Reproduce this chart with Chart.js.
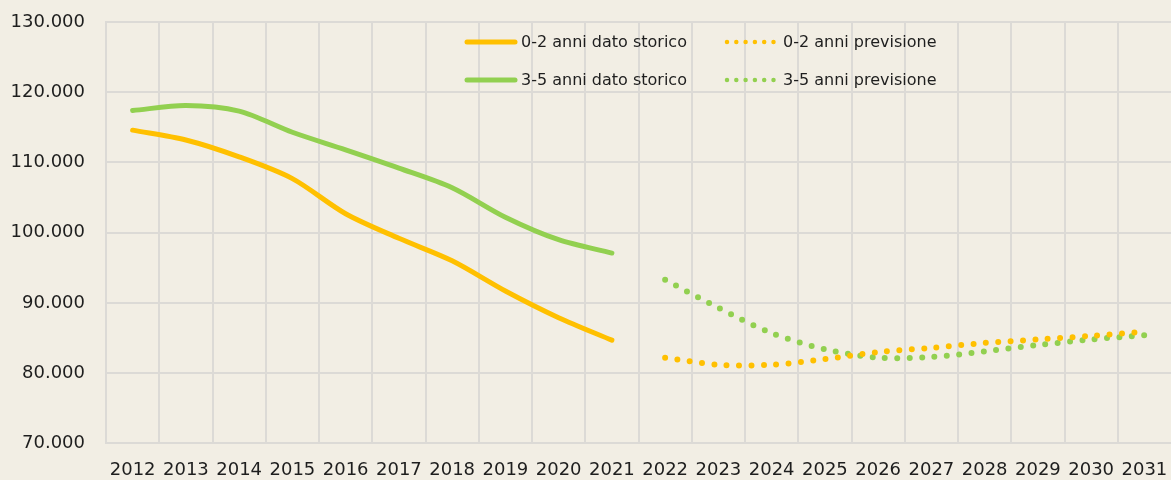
<!DOCTYPE html>
<html lang="it">
<head>
<meta charset="utf-8">
<title>Bambini 0-2 e 3-5 anni</title>
<script src="https://cdn.jsdelivr.net/npm/chart.js@4.4.1/dist/chart.umd.min.js"></script>
<style>
  html, body { margin: 0; padding: 0; background: #f2eee4; }
  #wrap { width: 1171px; height: 480px; position: relative; }
</style>
</head>
<body>
<div id="wrap"><canvas id="myChart"></canvas></div>
<script>
// anni sull'asse x
const anni = ["2012", "2013", "2014", "2015", "2016", "2017", "2018", "2019", "2020", "2021",
  "2022", "2023", "2024", "2025", "2026", "2027", "2028", "2029", "2030", "2031"];

// dato storico 2012-2021
const storico02 = [114600, 113200, 110800, 107700, 102700, 99200, 96000, 91700, 87900, 84700];
const storico35 = [117400, 118100, 117300, 114300, 111800, 109200, 106400, 102200, 99000, 97100];

// previsione 2022-2031
const previsione02 = [82200, 81200, 81200, 82000, 83000, 83600, 84300, 84800, 85300, 85900];
const previsione35 = [93300, 89300, 85700, 83400, 82200, 82300, 83100, 84000, 84800, 85400];

const yTicks = [70000, 80000, 90000, 100000, 110000, 120000, 130000];

const arancio = "#ffc000";
const verde = "#92d050";
const griglia = "#dcdad6";
const vuoti = new Array(10).fill(null);

function formatta(v) {
  return String(v).replace(/\B(?=(\d{3})+(?!\d))/g, ".");
}

const sfondo = {
  id: "sfondo",
  beforeDraw(chart) {
    const ctx = chart.ctx;
    ctx.save();
    ctx.fillStyle = "#f2eee4";
    ctx.fillRect(0, 0, chart.width, chart.height);
    ctx.restore();
  },
};

// legenda disegnata dentro l'area del grafico, 2 colonne x 2 righe
const legenda = {
  id: "legenda",
  afterDraw(chart) {
    const ctx = chart.ctx;
    const colonne = [465, 725];
    const righe = [42, 80];
    ctx.save();
    ctx.font = "16px 'DejaVu Sans'";
    ctx.textBaseline = "middle";
    ctx.fillStyle = "#1e1e1e";
    chart.data.datasets.forEach((ds, i) => {
      const x = colonne[i % 2];
      const y = righe[Math.floor(i / 2)];
      const puntini = ds.borderDash && ds.borderDash.length;
      ctx.strokeStyle = ds.borderColor;
      ctx.lineCap = "round";
      if (puntini) {
        ctx.lineWidth = 4.5;
        ctx.setLineDash([0, 9.3]);
      } else {
        ctx.lineWidth = 5;
        ctx.setLineDash([]);
      }
      ctx.beginPath();
      ctx.moveTo(x + 2, y);
      ctx.lineTo(x + 50, y);
      ctx.stroke();
      ctx.setLineDash([]);
      ctx.fillText(ds.label, x + (puntini ? 58 : 56), y + 1);
    });
    ctx.restore();
  },
};

const canvas = document.getElementById("myChart");
new Chart(canvas, {
  type: "line",
  data: {
    labels: anni,
    datasets: [
      {
        label: "0-2 anni dato storico",
        data: storico02.concat(vuoti),
        borderColor: arancio,
        borderWidth: 5,
        borderCapStyle: "round",
        borderDash: [],
        tension: 0.3,
        pointRadius: 0,
      },
      {
        label: "0-2 anni previsione",
        data: vuoti.concat(previsione02),
        borderColor: arancio,
        borderWidth: 6,
        borderCapStyle: "round",
        borderDash: [0, 12.4],
        tension: 0.3,
        pointRadius: 0,
      },
      {
        label: "3-5 anni dato storico",
        data: storico35.concat(vuoti),
        borderColor: verde,
        borderWidth: 5,
        borderCapStyle: "round",
        borderDash: [],
        tension: 0.3,
        pointRadius: 0,
      },
      {
        label: "3-5 anni previsione",
        data: vuoti.concat(previsione35),
        borderColor: verde,
        borderWidth: 6,
        borderCapStyle: "round",
        borderDash: [0, 12.4],
        tension: 0.3,
        pointRadius: 0,
      },
    ],
  },
  options: {
    responsive: true,
    maintainAspectRatio: false,
    animation: false,
    layout: { padding: { left: 11, top: 22, right: 0, bottom: -3 } },
    plugins: {
      legend: { display: false },
      tooltip: { enabled: false },
    },
    scales: {
      x: {
        offset: true,
        afterFit: (scale) => {
          scale.paddingRight = 0;
        },
        grid: {
          offset: true,
          // la linea sul bordo destro nel grafico originale non si vede
          color: (c) => (c.type === "tick" ? griglia : "rgba(0,0,0,0)"),
          lineWidth: 2,
          drawTicks: true,
          tickLength: 14,
          tickColor: "rgba(0,0,0,0)",
        },
        border: { color: griglia, width: 2 },
        ticks: {
          color: "#1e1e1e",
          font: { family: "'DejaVu Sans'", size: 18 },
          padding: 2,
          maxRotation: 0,
          autoSkip: false,
        },
      },
      y: {
        min: yTicks[0],
        max: yTicks[yTicks.length - 1],
        afterBuildTicks: (scale) => {
          scale.ticks = yTicks.map((v) => ({ value: v }));
        },
        afterFit: (scale) => {
          scale.width = 95;
          scale.paddingTop = 0;
          scale.paddingBottom = 0;
        },
        grid: { color: griglia, lineWidth: 2, drawTicks: false },
        border: { color: griglia, width: 2 },
        ticks: {
          color: "#1e1e1e",
          font: { family: "'DejaVu Sans'", size: 18 },
          padding: 21,
          callback: (v) => formatta(v),
        },
      },
    },
  },
  plugins: [sfondo, legenda],
});
</script>
</body>
</html>
